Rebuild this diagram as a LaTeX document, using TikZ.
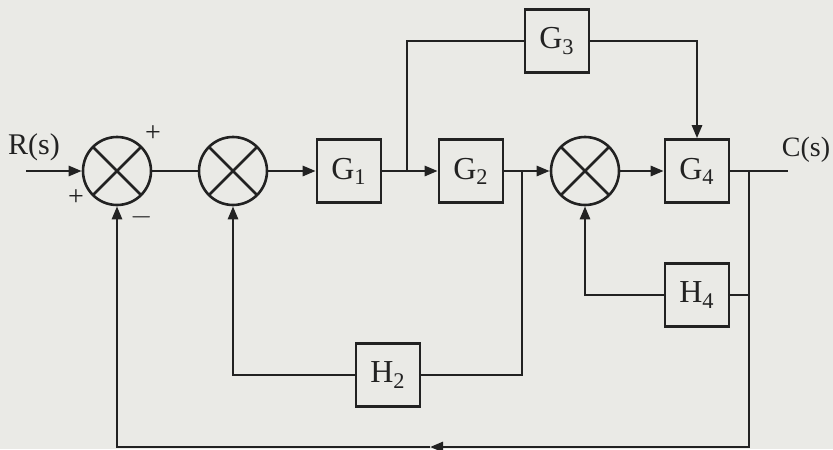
\documentclass[tikz,border=0pt]{standalone}
\usepackage{fontspec}
\setmainfont{Liberation Serif}
\usepackage{tikz}
\usetikzlibrary{arrows.meta,positioning}
\definecolor{ink}{HTML}{222222}
\definecolor{paper}{HTML}{EAEAE6}
\tikzset{
  blk/.style={draw=ink, line width=1.3pt, minimum width=32pt, minimum height=31.5pt,
              inner sep=0pt, font=\fontsize{16}{18}\selectfont, text=ink},
  sumj/.style={draw=ink, line width=1.3pt, circle, minimum size=34pt, inner sep=0pt,
               path picture={\draw[ink, line width=1.3pt]
                 (path picture bounding box.north west) -- (path picture bounding box.south east)
                 (path picture bounding box.north east) -- (path picture bounding box.south west);}},
  ln/.style={draw=ink, line width=1.3pt},
  ch/.style={ln, -{Triangle[length=6.5pt,width=5pt]}},
  lbl/.style={font=\fontsize{14}{16}\selectfont, text=ink, inner sep=0pt},
}
\newcommand{\blkname}[2]{#1\textsubscript{#2}}

\begin{document}
\begin{tikzpicture}[x=0.5pt, y=-0.5pt]
    \fill[paper] (0,0) rectangle (833,449);
    \useasboundingbox (0,0) rectangle (833,449);
    % forward path
    \coordinate (in) at (26,171);
    \node[sumj] (s1) at (117,171) {};
    \node[sumj] (s2) at (233,171) {};
    \node[blk] (g1) at (349,171) {\blkname{G}{1}};
    \node[blk] (g2) at (471,171) {\blkname{G}{2}};
    \node[sumj] (s3) at (585,171) {};
    \node[blk] (g4) at (697,171) {\blkname{G}{4}};
    \coordinate (out) at (788,171);
    % parallel and feedback blocks
    \node[blk] (g3) at (557,41) {\blkname{G}{3}};
    \node[blk] (h4) at (697,295) {\blkname{H}{4}};
    \node[blk] (h2) at (388,375) {\blkname{H}{2}};
    \coordinate (b1) at (407,171);
    \coordinate (b2) at (522,171);
    \coordinate (b3) at (749,171);
    \coordinate (bm) at (430,447);
    % labels
    \node[lbl, font=\fontsize{15}{17}\selectfont] (rs) at (34,147) {R(s)};
    \node[lbl] (cs) at (806,150) {C(s)};
    \node[lbl] (p1) at (153,134) {+};
    \node[lbl] (p2) at (76,198) {+};
    \node[lbl] (m1) at (142,217) {$-$};
    % connectors
    \draw[ch] (in) -- (s1);
    \draw[ln] (s1) -- (s2);
    \draw[ch] (s2) -- (g1);
    \draw[ch] (g1) -- (g2);
    \draw[ch] (g2) -- (s3);
    \draw[ch] (s3) -- (g4);
    \draw[ln] (g4) -- (out);
    \draw[ln] (b1) |- (g3);
    \draw[ch] (g3) -| (g4);
    \draw[ln] (b2) |- (h2);
    \draw[ch] (h2) -| (s2);
    \draw[ln] (b3) |- (h4);
    \draw[ch] (h4) -| (s3);
    \draw[ch] (b3) |- (bm);
    \draw[ch] (bm) -| (s1);
  \end{tikzpicture}
\end{document}
